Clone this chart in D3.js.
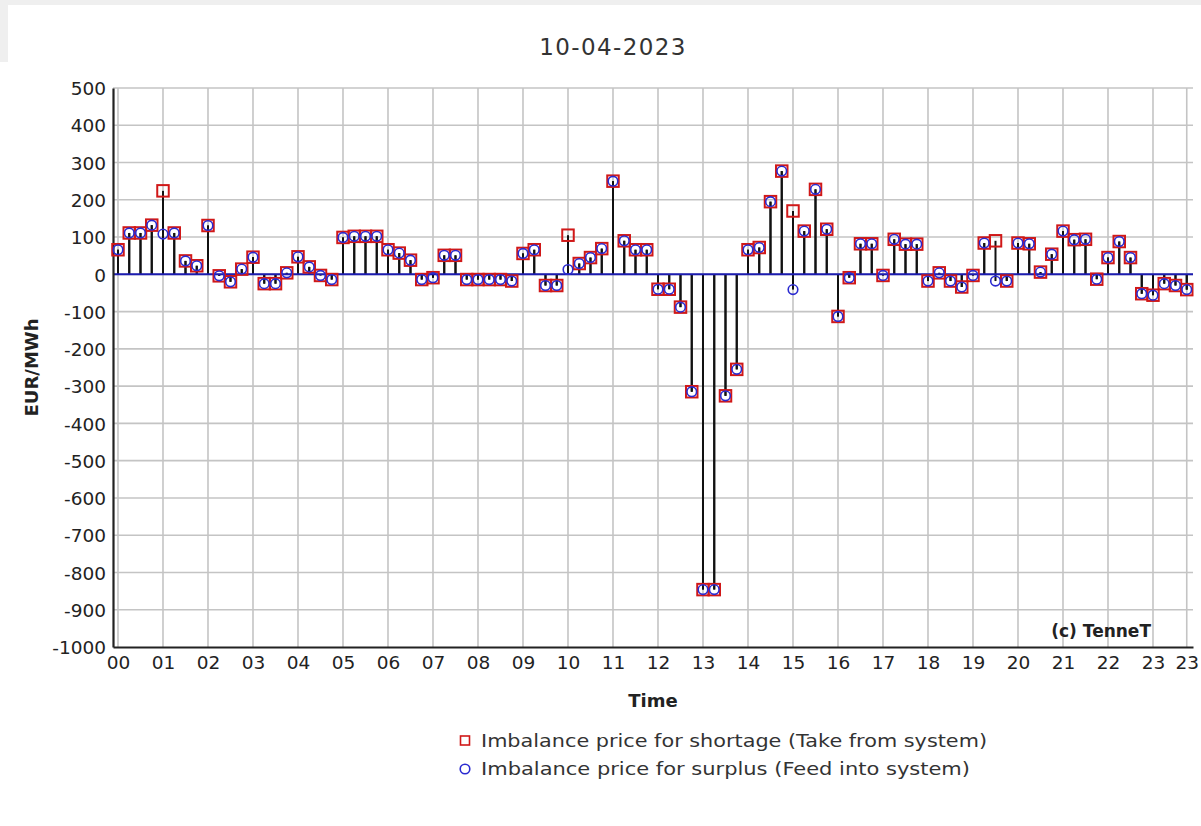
<!DOCTYPE html>
<html>
<head>
<meta charset="utf-8">
<script src="https://cdn.jsdelivr.net/npm/d3@7"></script>
<style>
  html, body { margin: 0; padding: 0; background: #ffffff; }
  svg { display: block; }
  text { font-family: "DejaVu Sans", sans-serif; fill: #222; }
</style>
</head>
<body>
<script>
// ---- data ----
const title = "10-04-2023";
const quarterIndex = d3.range(96);
const shortage = [
  66, 111, 111, 132, 224, 111, 36, 23,
  131, -4, -20, 14, 46, -25, -25, 4,
  47, 20, -3, -14, 99, 102, 102, 102,
  66, 57, 38, -14, -9, 51, 51, -14,
  -14, -14, -14, -18, 56, 66, -30, -30,
  105, 29, 45, 69, 250, 90, 66, 66,
  -40, -40, -88, -315, -846, -846, -326, -255,
  66, 72, 195, 277, 170, 116, 228, 121,
  -113, -9, 82, 82, -3, 94, 81, 81,
  -18, 4, -18, -34, -3, 84, 90, -18,
  84, 82, 6, 54, 116, 93, 94, -13,
  45, 88, 45, -52, -56, -25, -30, -41
];
const surplus = [
  66, 111, 111, 132, 108, 111, 36, 23,
  131, -4, -20, 14, 46, -25, -25, 4,
  47, 20, -3, -14, 99, 102, 102, 102,
  66, 57, 38, -14, -9, 51, 51, -14,
  -14, -14, -14, -18, 56, 66, -30, -30,
  13, 29, 45, 69, 250, 90, 66, 66,
  -40, -40, -88, -315, -846, -846, -326, -255,
  66, 72, 195, 277, -41, 116, 228, 121,
  -113, -9, 82, 82, -3, 94, 81, 81,
  -18, 4, -18, -34, -3, 84, -18, -18,
  84, 82, 6, 54, 116, 93, 94, -13,
  45, 88, 45, -52, -56, -25, -30, -41
];
const xTickPositions = [0,4,8,12,16,20,24,28,32,36,40,44,48,52,56,60,64,68,72,76,80,84,88,92,95];
const xTickLabels = ["00","01","02","03","04","05","06","07","08","09","10","11",
                     "12","13","14","15","16","17","18","19","20","21","22","23","23"];
const yTicks = [500,400,300,200,100,0,-100,-200,-300,-400,-500,-600,-700,-800,-900,-1000];
const yLabel = "EUR/MWh";
const xLabel = "Time";
const legendLabels = ["Imbalance price for shortage (Take from system)",
                      "Imbalance price for surplus (Feed into system)"];
const credit = "(c) TenneT";

// ---- layout ----
const W = 1201, H = 826;
const pLeft = 113, pRight = 1193, pTop = 88, pBottom = 647;
const red = "#d01818", blue = "#2a2ad0", gridColor = "#c4c4c4";

const svg = d3.select("body").append("svg").attr("width", W).attr("height", H);

// screenshot frame
svg.append("rect").attr("x",0).attr("y",0).attr("width",W).attr("height",5).attr("fill","#efefef");
svg.append("rect").attr("x",0).attr("y",0).attr("width",8).attr("height",62).attr("fill","#efefef");

const x = d3.scaleLinear().domain([-0.444, 95.556]).range([pLeft, pRight]);
const y = d3.scaleLinear().domain([-1000, 500]).range([pBottom, pTop]);

// title
svg.append("text").attr("x", 613).attr("y", 55).attr("text-anchor","middle")
  .style("font-size","23px").style("letter-spacing","1.4px").style("fill","#333")
  .text(title);

// grid
const g = svg.append("g");
g.selectAll("line.h").data(yTicks.filter(v => v > -1000)).enter().append("line")
  .attr("x1", pLeft).attr("x2", pRight)
  .attr("y1", d => y(d)).attr("y2", d => y(d))
  .attr("stroke", gridColor).attr("stroke-width", 1.6);
g.selectAll("line.v").data(xTickPositions).enter().append("line")
  .attr("x1", d => x(d)).attr("x2", d => x(d))
  .attr("y1", pTop).attr("y2", pBottom)
  .attr("stroke", gridColor).attr("stroke-width", 1.6);

// stems
function stems(data) {
  svg.append("g").selectAll("line").data(quarterIndex).enter().append("line")
    .attr("x1", i => x(i)).attr("x2", i => x(i))
    .attr("y1", y(0)).attr("y2", i => y(data[i]))
    .attr("stroke", "#111").attr("stroke-width", 2);
}
stems(shortage);
stems(surplus);

// zero line
svg.append("line").attr("x1", pLeft).attr("x2", pRight)
  .attr("y1", y(0)).attr("y2", y(0))
  .attr("stroke", "#1c1cb0").attr("stroke-width", 2);

// axes
const yAxis = d3.axisLeft(y).tickValues(yTicks).tickSize(0).tickPadding(7).tickSizeOuter(0)
  .tickFormat(d => String(d));
const ya = svg.append("g").attr("transform", `translate(${pLeft},0)`).call(yAxis);
ya.select(".domain").attr("stroke", "#222").attr("stroke-width", 2.2);
ya.selectAll("text").style("font-size","18.5px").style("font-family","DejaVu Sans, sans-serif")
  .attr("fill","#222").attr("dy","0.36em");

const xAxis = d3.axisBottom(x).tickValues(xTickPositions).tickSize(0).tickPadding(9).tickSizeOuter(0)
  .tickFormat((d, i) => xTickLabels[i]);
const xa = svg.append("g").attr("transform", `translate(0,${pBottom})`).call(xAxis);
xa.select(".domain").attr("stroke", "#222").attr("stroke-width", 2.2);
xa.selectAll("text").style("font-size","18.5px").style("font-family","DejaVu Sans, sans-serif")
  .attr("fill","#222");

// markers
svg.append("g").selectAll("rect").data(quarterIndex).enter().append("rect")
  .attr("x", i => x(i) - 5.75).attr("y", i => y(shortage[i]) - 5.75)
  .attr("width", 11.5).attr("height", 11.5)
  .attr("fill", "none").attr("stroke", red).attr("stroke-width", 2);
svg.append("g").selectAll("circle").data(quarterIndex).enter().append("circle")
  .attr("cx", i => x(i)).attr("cy", i => y(surplus[i])).attr("r", 4.8)
  .attr("fill", "none").attr("stroke", blue).attr("stroke-width", 1.6);

// credit
svg.append("text").attr("x", 1151).attr("y", 637).attr("text-anchor","end")
  .style("font-size","17px").style("font-weight","bold").text(credit);

// axis titles
svg.append("text").attr("x", 653).attr("y", 707).attr("text-anchor","middle")
  .style("font-size","18px").style("font-weight","bold").text(xLabel);
svg.append("text").attr("transform", `translate(38,${(pTop+pBottom)/2}) rotate(-90)`)
  .attr("text-anchor","middle")
  .style("font-size","18px").style("font-weight","bold").text(yLabel);

// legend
const lg = svg.append("g");
lg.append("rect").attr("x", 460.5).attr("y", 736).attr("width", 9).attr("height", 9)
  .attr("fill","none").attr("stroke", red).attr("stroke-width", 1.6);
lg.append("circle").attr("cx", 465).attr("cy", 769).attr("r", 4.8)
  .attr("fill","none").attr("stroke", blue).attr("stroke-width", 1.6);
const legendWidths = [506, 489];
lg.selectAll("text").data(legendLabels).enter().append("text")
  .attr("x", 481).attr("y", (d, i) => 747 + i * 28)
  .attr("textLength", (d, i) => legendWidths[i]).attr("lengthAdjust", "spacingAndGlyphs")
  .style("font-size","18px").style("fill","#333").text(d => d);
</script>
</body>
</html>
